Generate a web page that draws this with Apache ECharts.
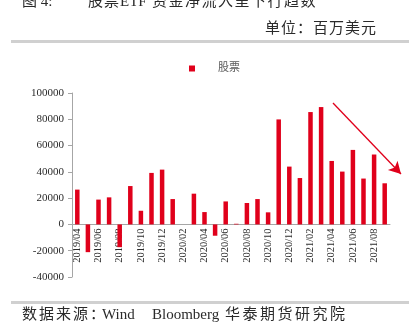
<!DOCTYPE html>
<html><head><meta charset="utf-8">
<script src="https://cdn.jsdelivr.net/npm/echarts@6/dist/echarts.min.js"></script>
<style>html,body{margin:0;padding:0;background:#fff}#c{width:409px;height:333px}</style>
</head><body><div id="c"></div>
<script>
const categories = ['2019/04','2019/05','2019/06','2019/07','2019/08','2019/09','2019/10','2019/11','2019/12',
 '2020/01','2020/02','2020/03','2020/04','2020/05','2020/06','2020/07','2020/08','2020/09','2020/10','2020/11','2020/12',
 '2021/01','2021/02','2021/03','2021/04','2021/05','2021/06','2021/07','2021/08','2021/09'];
const stockValues = [26500,-21100,18900,20600,-17300,29200,10400,39200,41700,
 19300,0,23400,9400,-8600,17500,500,16300,19300,9200,79900,44000,
 35300,85500,89300,48300,40200,56700,34900,53200,31300];
const seriesName = '股票';
const yTicks = {min:-40000, max:100000, interval:20000};

const serifCJK = '"Liberation Serif","Noto Sans CJK SC",serif';
const TXT = '#2a2a2a';

// layout
const W = 409, H = 333;
const grid = {left:72, right:19, top:93, bottom:56};
const plotH = H - grid.top - grid.bottom;
const zeroFromBottom = plotH * (0 - yTicks.min) / (yTicks.max - yTicks.min);

// place text pieces; CJK strings spread char by char with an advance
function spaced(str, x, cy, size, adv) {
  const out = [];
  [...str].forEach((ch, i) => {
    out.push({type:'text', x:x + i*adv, y:cy,
      style:{text:ch, fontSize:size, fontFamily:serifCJK, fill:TXT, textVerticalAlign:'middle'}});
  });
  return out;
}
function word(str, x, cy, size) {
  return {type:'text', x:x, y:cy,
    style:{text:str, fontSize:size, fontFamily:serifCJK, fill:TXT, textVerticalAlign:'middle'}};
}

const graphics = [].concat(
  [word('图 4:', 22, 2.5, 15)],
  spaced('股票', 88, 2.5, 15, 16),
  [word('ETF', 120, 2.5, 15)],
  spaced('资金净流入呈下行趋数', 152, 2.5, 15, 16.5),
  spaced('单位：百万美元', 265, 29, 15, 16),
  [{type:'rect', shape:{x:11, y:40, width:398, height:3}, style:{fill:'#d0d0d0'}},
   {type:'rect', shape:{x:11, y:301, width:398, height:3}, style:{fill:'#d0d0d0'}}],
  spaced('数据来源：', 22, 315, 15, 17),
  [word('Wind', 102, 315, 15), word('Bloomberg', 152, 315, 15)],
  spaced('华泰期货研究院', 225, 315, 15, 17.5)
);

const chart = echarts.init(document.getElementById('c'));
chart.setOption({
  animation:false,
  backgroundColor:'#fff',
  grid:{left:grid.left,right:grid.right,top:grid.top,bottom:grid.bottom,containLabel:false},
  legend:{
    data:[seriesName], left:184, top:58, icon:'rect', itemWidth:6, itemHeight:6,
    textStyle:{color:'#595959', fontSize:11, fontFamily:serifCJK, padding:[0,0,0,18]}
  },
  xAxis:{
    type:'category', data:categories,
    offset:-zeroFromBottom,
    axisLine:{onZero:false, lineStyle:{color:'#a6a6a6', width:1}},
    axisTick:{interval:1, length:4, lineStyle:{color:'#a6a6a6'}},
    axisLabel:{interval:1, rotate:90, margin:4, color:TXT, fontSize:10.5, fontFamily:'"Liberation Serif",serif'}
  },
  yAxis:{
    type:'value', min:yTicks.min, max:yTicks.max, interval:yTicks.interval,
    splitLine:{show:false},
    axisLine:{show:true, lineStyle:{color:'#a6a6a6'}},
    axisTick:{show:true, length:4, lineStyle:{color:'#a6a6a6'}},
    axisLabel:{margin:8, color:TXT, fontSize:11, fontFamily:'"Liberation Serif",serif',
      formatter:v => String(v)}
  },
  series:[{
    name:seriesName, type:'bar', data:stockValues, barWidth:4.5,
    itemStyle:{color:'#e0001b'},
    markLine:{
      silent:true, symbol:['none','arrow'], symbolSize:[10,12],
      lineStyle:{color:'#e0001b', width:1.3, type:'solid'},
      label:{show:false},
      data:[[{x:333,y:103},{x:401,y:174}]]
    }
  }],
  graphic:graphics
});
</script></body></html>
